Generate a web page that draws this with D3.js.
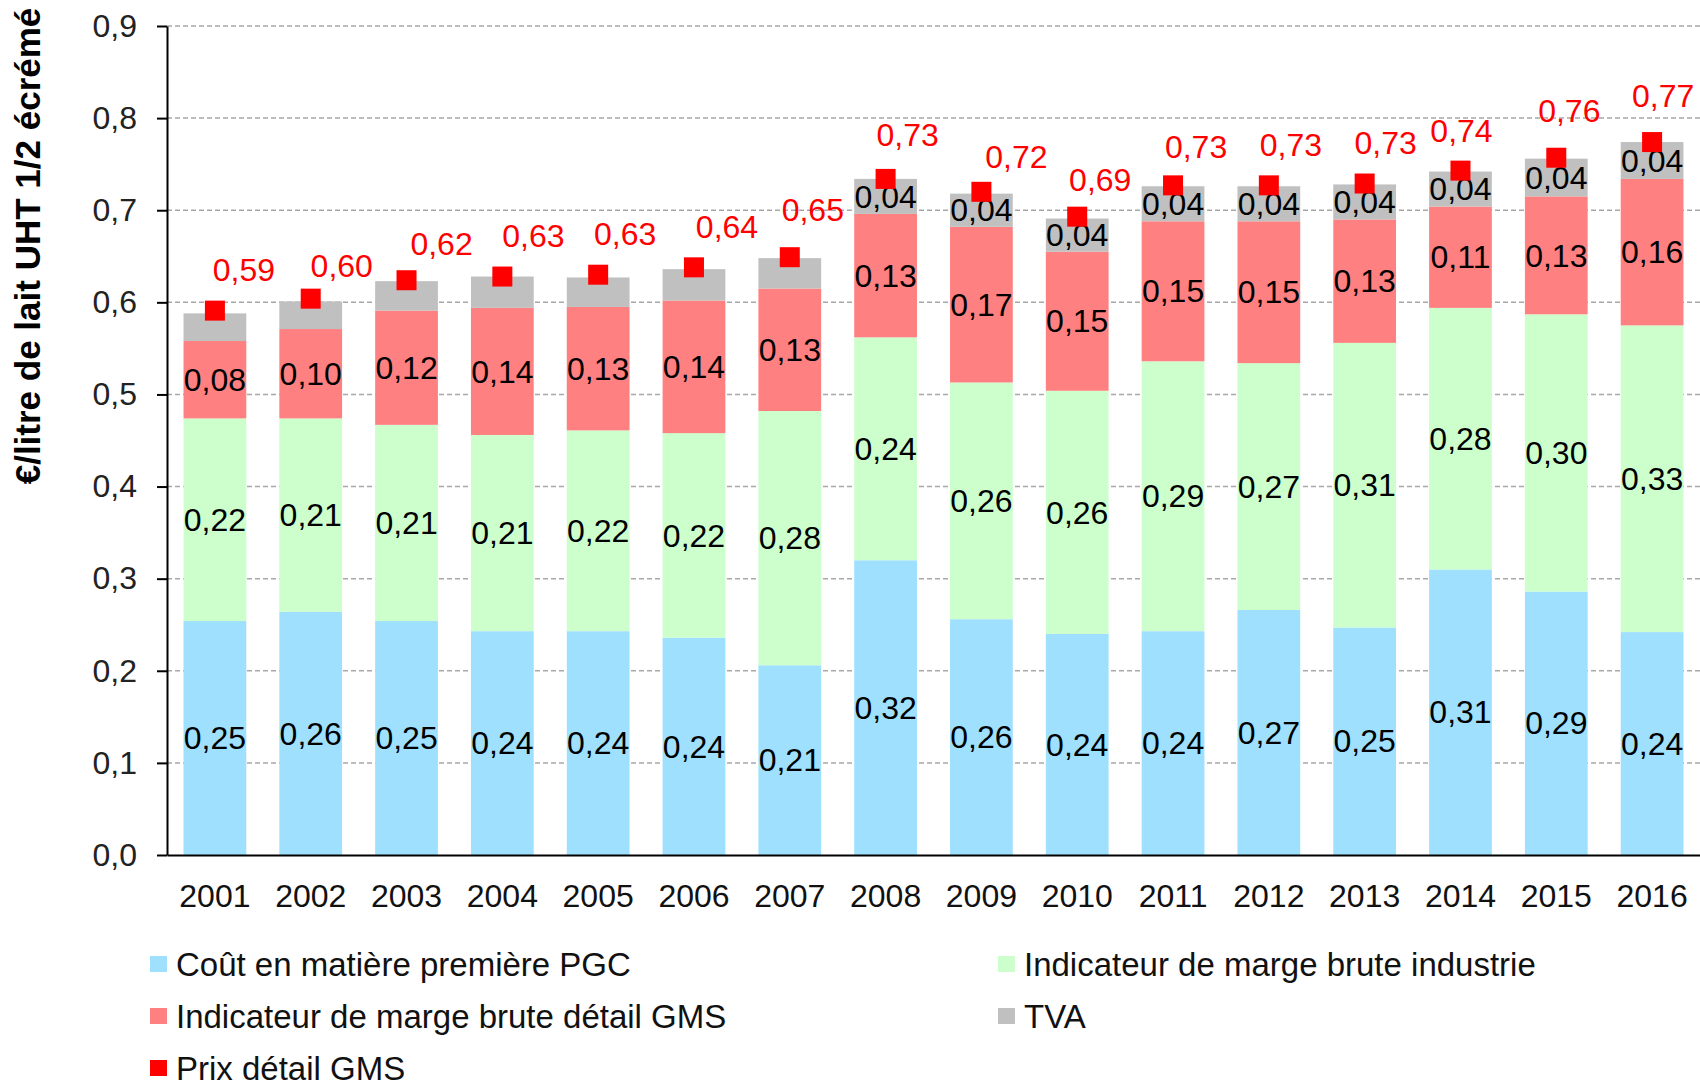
<!DOCTYPE html>
<html>
<head>
<meta charset="utf-8">
<script src="https://cdn.jsdelivr.net/npm/d3@7"></script>
<style>
  body { margin: 0; background: #fff; }
  svg text { font-family: "Liberation Sans", Arial, sans-serif; }
</style>
</head>
<body>
<svg id="chart" width="1700" height="1084"></svg>
<script>
// Data (€/litre)
var years = ['2001', '2002', '2003', '2004', '2005', '2006', '2007', '2008',
             '2009', '2010', '2011', '2012', '2013', '2014', '2015', '2016'];
var coutPGC = [0.254, 0.264, 0.254, 0.243, 0.243, 0.236, 0.206, 0.320,
               0.256, 0.240, 0.243, 0.266, 0.247, 0.310, 0.286, 0.242];
var margeIndustrie = [0.220, 0.210, 0.213, 0.213, 0.218, 0.222, 0.276, 0.242,
                      0.257, 0.264, 0.293, 0.268, 0.309, 0.284, 0.301, 0.333];
var margeGMS = [0.084, 0.097, 0.124, 0.138, 0.134, 0.144, 0.133, 0.134,
                0.169, 0.151, 0.152, 0.154, 0.134, 0.110, 0.128, 0.159];
var tva = [0.030, 0.030, 0.032, 0.034, 0.032, 0.034, 0.033, 0.038,
           0.036, 0.036, 0.038, 0.038, 0.038, 0.038, 0.041, 0.040];
var prixGMS = [0.591, 0.604, 0.624, 0.628, 0.630, 0.638, 0.649, 0.734,
               0.720, 0.693, 0.727, 0.727, 0.729, 0.743, 0.757, 0.774];
var yTicks = [0, 0.1, 0.2, 0.3, 0.4, 0.5, 0.6, 0.7, 0.8, 0.9];

// Hand-placed offsets of the price labels, relative to their markers
var priceLabelDx = [29, 31, 35, 31, 27, 33, 23, 22, 35, 23, 23, 22, 21, 1, 13, 11];
var priceLabelDy = [-41, -33, -36, -41, -41, -41, -47, -44, -35, -37, -39, -41, -41, -40, -47, -46];

var series = [
  { key: 'pgc', name: 'Coût en matière première PGC', color: '#9FE0FF', values: coutPGC },
  { key: 'ind', name: 'Indicateur de marge brute industrie', color: '#CCFFCC', values: margeIndustrie },
  { key: 'gms', name: 'Indicateur de marge brute détail GMS', color: '#FF8080', values: margeGMS },
  { key: 'tva', name: 'TVA', color: '#C0C0C0', values: tva }
];

var rows = years.map(function(y, i) {
  var r = { year: y };
  series.forEach(function(s) { r[s.key] = s.values[i]; });
  return r;
});

var plotLeft = 167, plotRight = 1700, plotTop = 26, plotBottom = 855;
var fmt = function(v) { return v.toFixed(2).replace('.', ','); };

var svg = d3.select('#chart');

var x = d3.scaleBand()
          .domain(years)
          .range([plotLeft, plotRight])
          .paddingInner(0.345)
          .paddingOuter(0.1725);

var y = d3.scaleLinear()
          .domain([0, 0.9])
          .range([plotBottom, plotTop]);

// Gridlines
svg.append('g')
   .selectAll('line')
   .data(yTicks.slice(1))
   .enter()
   .append('line')
   .attr('x1', plotLeft)
   .attr('x2', plotRight)
   .attr('y1', (d) => y(d))
   .attr('y2', (d) => y(d))
   .attr('stroke', '#A8A8A8')
   .attr('stroke-width', 1.5)
   .attr('stroke-dasharray', '5,3');

// Stacked bars
var stack = d3.stack().keys(series.map((s) => s.key));
var stacked = stack(rows);

var layers = svg.append('g')
   .selectAll('g')
   .data(stacked)
   .enter()
   .append('g')
   .attr('fill', (d, i) => series[i].color);

layers.selectAll('rect')
      .data((d) => d)
      .enter()
      .append('rect')
      .attr('x', (d) => x(d.data.year))
      .attr('width', x.bandwidth())
      .attr('y', (d) => y(d[1]))
      .attr('height', (d) => y(d[0]) - y(d[1]));

// Segment labels (TVA labels only shown from 2008)
stacked.forEach(function(layer, li) {
  svg.append('g')
     .selectAll('text')
     .data(layer.filter((d) => li < 3 || d[1] - d[0] >= 0.035))
     .enter()
     .append('text')
     .attr('x', (d) => x(d.data.year) + x.bandwidth() / 2)
     .attr('y', (d) => y((d[0] + d[1]) / 2))
     .attr('dy', '0.35em')
     .attr('text-anchor', 'middle')
     .attr('font-size', 32)
     .attr('fill', '#000')
     .text((d) => fmt(d[1] - d[0]));
});

// Axes
var yAxis = d3.axisLeft(y)
              .tickValues(yTicks)
              .tickFormat((d) => d.toFixed(1).replace('.', ','))
              .tickSize(10)
              .tickSizeOuter(0)
              .tickPadding(20);

var gy = svg.append('g')
   .attr('transform', 'translate(' + plotLeft + ', 0)')
   .call(yAxis);
gy.select('.domain').attr('stroke', '#000').attr('stroke-width', 2);
gy.selectAll('.tick line').attr('stroke', '#000').attr('stroke-width', 2);
gy.selectAll('.tick text')
  .attr('font-size', 32)
  .attr('font-family', '"Liberation Sans", Arial, sans-serif')
  .attr('fill', '#222');

var xAxis = d3.axisBottom(x).tickSize(0).tickSizeOuter(0);
var gx = svg.append('g')
   .attr('transform', 'translate(0, ' + plotBottom + ')')
   .call(xAxis);
gx.select('.domain').attr('stroke', '#000').attr('stroke-width', 2);
gx.selectAll('.tick text')
  .attr('y', 52)
  .attr('dy', null)
  .attr('font-size', 32)
  .attr('font-family', '"Liberation Sans", Arial, sans-serif')
  .attr('fill', '#111');

// Retail price markers and labels
svg.append('g')
   .selectAll('rect')
   .data(prixGMS)
   .enter()
   .append('rect')
   .attr('x', (d, i) => x(years[i]) + x.bandwidth() / 2 - 10)
   .attr('y', (d) => y(d) - 10)
   .attr('width', 20)
   .attr('height', 20)
   .attr('fill', '#FF0000');

svg.append('g')
   .selectAll('text')
   .data(prixGMS)
   .enter()
   .append('text')
   .attr('x', (d, i) => x(years[i]) + x.bandwidth() / 2 + priceLabelDx[i])
   .attr('y', (d, i) => y(d) + priceLabelDy[i])
   .attr('dy', '0.35em')
   .attr('text-anchor', 'middle')
   .attr('font-size', 32)
   .attr('fill', '#FF0000')
   .text((d) => fmt(d));

// Y axis title
svg.append('text')
   .attr('transform', 'translate(28, 246) rotate(-90)')
   .attr('dy', '0.35em')
   .attr('text-anchor', 'middle')
   .attr('font-size', 35)
   .attr('font-weight', 'bold')
   .attr('fill', '#000')
   .text('€/litre de lait UHT 1/2 écrémé');

// Legend (two columns, row-major)
var legendItems = series.map((s) => ({ name: s.name, color: s.color }));
legendItems.push({ name: 'Prix détail GMS', color: '#FF0000' });
var legendCols = [150, 998];
var legendRowY = 964, legendRowStep = 52;

var legend = svg.append('g')
   .selectAll('g')
   .data(legendItems)
   .enter()
   .append('g')
   .attr('transform', (d, i) => 'translate(' + legendCols[i % 2] + ', ' + (legendRowY + Math.floor(i / 2) * legendRowStep) + ')');

legend.append('rect')
      .attr('x', 0)
      .attr('y', -8)
      .attr('width', 17)
      .attr('height', 16)
      .attr('fill', (d) => d.color);

legend.append('text')
      .attr('x', 26)
      .attr('dy', '0.35em')
      .attr('font-size', 33)
      .attr('fill', '#111')
      .text((d) => d.name);
</script>
</body>
</html>
